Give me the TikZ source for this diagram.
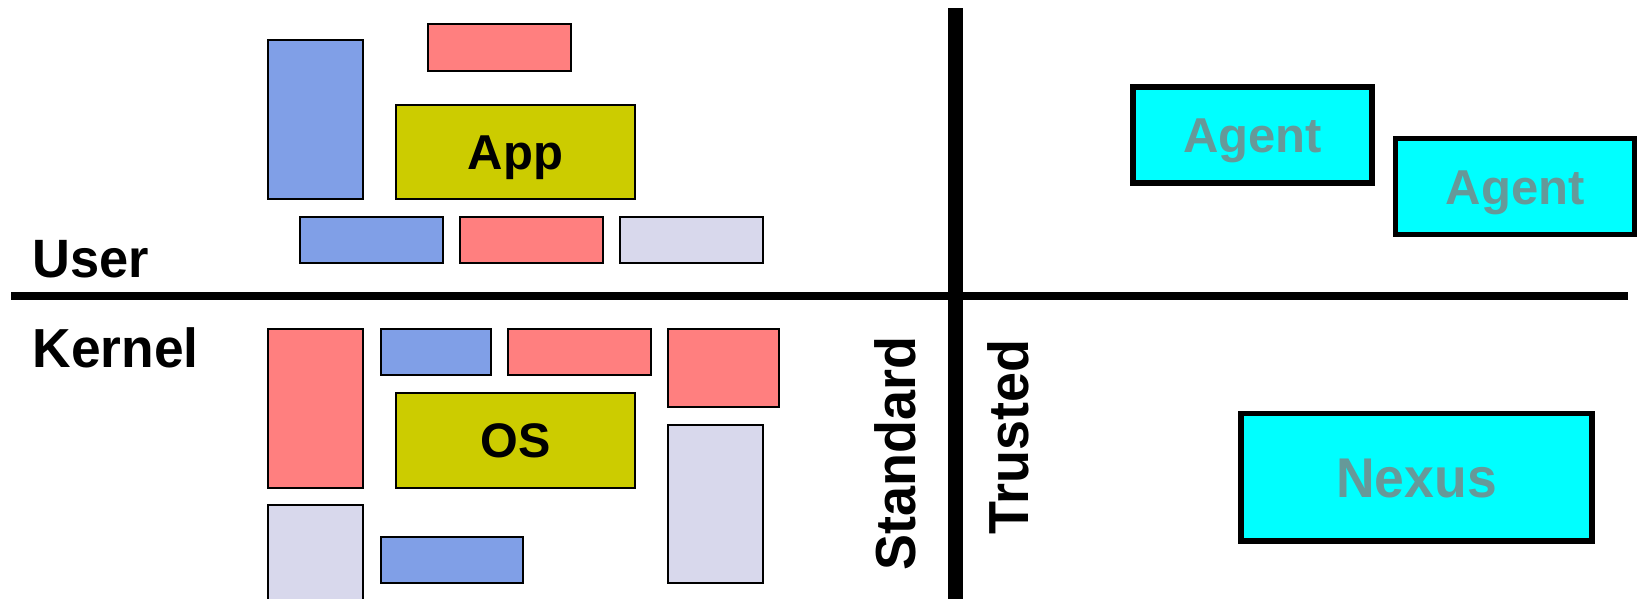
\documentclass[tikz,border=0pt]{standalone}
\usepackage{fontspec}
\newfontfamily\fontA{Liberation Sans}
\newfontfamily\fontB[FakeStretch=0.97]{Liberation Sans}
\newfontfamily\fontC[FakeStretch=0.955]{Liberation Sans}
\definecolor{cblue}{RGB}{128,159,231}
\definecolor{cred}{RGB}{255,127,127}
\definecolor{cgray}{RGB}{216,216,236}
\definecolor{colive}{RGB}{204,204,0}
\definecolor{ccyan}{RGB}{0,255,255}
\definecolor{ctext}{RGB}{102,153,153}
\tikzset{
  sbox/.style={draw=black, line width=2pt, inner sep=0pt, outer sep=0pt},
  tbox/.style={draw=black, line width=5.7pt, fill=ccyan, inner sep=0pt, outer sep=0pt, text=ctext},
  lab/.style={inner sep=0pt, outer sep=0pt},
  divider/.style={draw=black, line cap=butt},
}
\begin{document}
\begin{tikzpicture}[x=1pt,y=-1pt]
\useasboundingbox (0,0) rectangle (1637,598);
\clip (0,0) rectangle (1637,598);
% dividers
\coordinate (hl) at (11.3,296);
\coordinate (hr) at (1627.7,296);
\coordinate (vt) at (955.5,8);
\coordinate (vb) at (955.5,600);
\draw[divider, line width=8pt] (hl) -- (hr);
\draw[divider, line width=15pt] (vt) -- (vb);
% user space boxes
\node[sbox, fill=cblue, minimum width=95pt, minimum height=159pt] (ub1) at (315.5,119.8) {};
\node[sbox, fill=cred, minimum width=143pt, minimum height=46.7pt] (ur1) at (499.5,47.65) {};
\node[sbox, fill=colive, minimum width=239pt, minimum height=94.6pt, font=\fontA\bfseries\fontsize{49}{55}\selectfont, text height=35pt, text depth=0pt] (app) at (515.5,152) {App};
\node[sbox, fill=cblue, minimum width=143pt, minimum height=46.6pt] (ub2) at (371.5,240) {};
\node[sbox, fill=cred, minimum width=143pt, minimum height=46.6pt] (ur2) at (531.5,240) {};
\node[sbox, fill=cgray, minimum width=143pt, minimum height=46.6pt] (ug1) at (691.5,240) {};
% kernel boxes
\node[sbox, fill=cred, minimum width=95pt, minimum height=159pt] (kr1) at (315.5,408.2) {};
\node[sbox, fill=cblue, minimum width=110.3pt, minimum height=46.6pt] (kb1) at (435.85,352) {};
\node[sbox, fill=cred, minimum width=143pt, minimum height=46.6pt] (kr2) at (579.5,352) {};
\node[sbox, fill=cred, minimum width=111pt, minimum height=78.6pt] (kr3) at (723.5,368) {};
\node[sbox, fill=colive, minimum width=239pt, minimum height=95pt, font=\fontA\bfseries\fontsize{48.5}{54}\selectfont, text height=34.6pt, text depth=0pt] (os) at (515.5,440.2) {OS};
\node[sbox, fill=cgray, minimum width=95pt, minimum height=158.6pt] (kg1) at (715.5,504) {};
\node[sbox, fill=cgray, minimum width=95pt, minimum height=159pt] (kg2) at (315.5,584.2) {};
\node[sbox, fill=cblue, minimum width=142.3pt, minimum height=46.6pt] (kb2) at (451.85,560) {};
% trusted boxes
\node[tbox, minimum width=239.3pt, minimum height=95.7pt, font=\fontA\bfseries\fontsize{49}{55}\selectfont, text height=35.5pt, text depth=0pt] (agent1) at (1252.5,135) {Agent};
\node[tbox, minimum width=239.3pt, minimum height=95.9pt, font=\fontA\bfseries\fontsize{49}{55}\selectfont, text height=35.5pt, text depth=0pt] (agent2) at (1515.2,186.5) {Agent};
\node[tbox, minimum width=351.3pt, minimum height=127.6pt, font=\fontC\bfseries\fontsize{56}{62}\selectfont, text height=41pt, text depth=0pt] (nexus) at (1416.5,477.35) {Nexus};
% labels
\node[lab, anchor=base west, font=\fontB\bfseries\fontsize{54}{60}\selectfont] (user) at (32.7,277.5) {User};
\node[lab, anchor=base west, font=\fontB\bfseries\fontsize{55}{61}\selectfont] (kernel) at (32.7,367.5) {Kernel};
\node[lab, anchor=base, rotate=90, font=\fontC\bfseries\fontsize{56.5}{62}\selectfont] (standard) at (915.8,453.4) {Standard};
\node[lab, anchor=base, rotate=90, font=\fontC\bfseries\fontsize{56.5}{62}\selectfont] (trusted) at (1028,436.7) {Trusted};
\end{tikzpicture}
\end{document}
